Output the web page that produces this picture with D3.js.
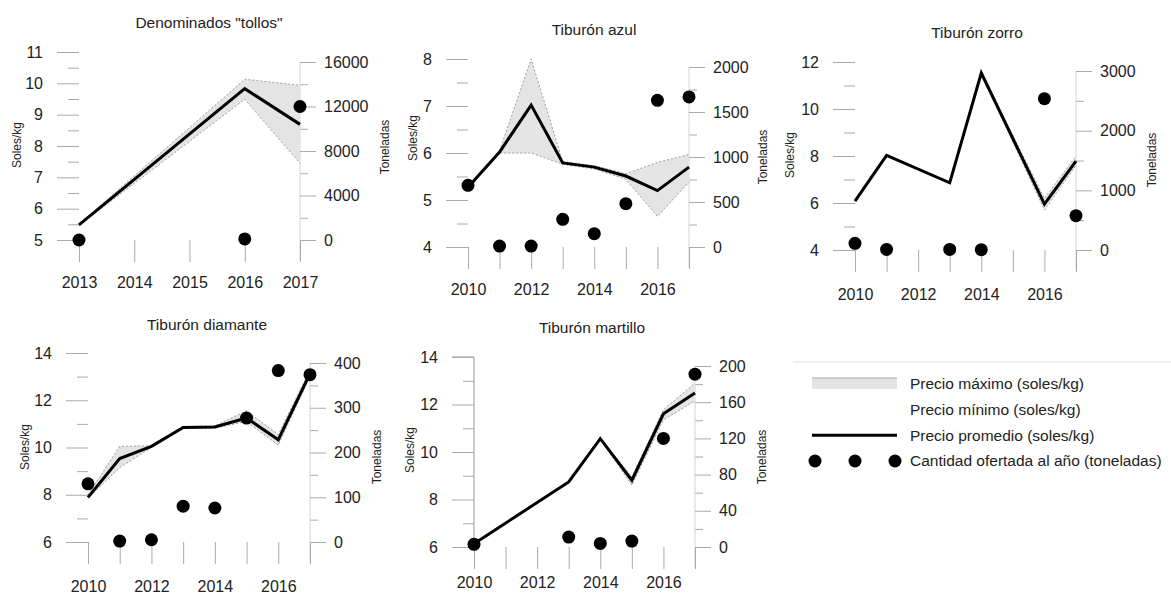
<!DOCTYPE html>
<html>
<head>
<meta charset="utf-8">
<script src="https://cdn.jsdelivr.net/npm/d3@7"></script>
<style>
  body { margin: 0; background: #fff; }
  svg { font-family: "Liberation Sans", Arial, sans-serif; }
</style>
</head>
<body>
<svg id="chart" width="1171" height="594"></svg>
<script>
// Denominados "tollos"
const tollosYears = [2013, 2016, 2017];
const tollosAvg = [5.48, 9.83, 8.69];
const tollosMax = [5.5, 10.13, 9.94];
const tollosMin = [5.46, 9.49, 7.45];
const tollosQty = [0, 100, 12000];

// Tiburón azul
const azulYears = [2010, 2011, 2012, 2013, 2014, 2015, 2016, 2017];
const azulAvg = [5.27, 6.02, 7.02, 5.79, 5.70, 5.51, 5.20, 5.70];
const azulMax = [5.28, 6.05, 8.0, 5.82, 5.73, 5.56, 5.8, 5.97];
const azulMin = [5.25, 6.0, 6.0, 5.76, 5.66, 5.44, 4.65, 5.38];
const azulQty = [685, 10, 10, 307, 148, 481, 1630, 1667];

// Tiburón zorro
const zorroYears = [2010, 2011, 2013, 2014, 2016, 2017];
const zorroAvg = [6.08, 8.03, 6.86, 11.53, 5.95, 7.78];
const zorroMax = [6.1, 8.05, 6.88, 11.55, 6.2, 8.0];
const zorroMin = [6.06, 8.0, 6.84, 11.5, 5.7, 7.6];
const zorroQty = [112, 10, 10, 5, 2536, 575];

// Tiburón diamante
const diamanteYears = [2010, 2011, 2012, 2013, 2014, 2015, 2016, 2017];
const diamanteAvg = [7.89, 9.53, 10.05, 10.85, 10.87, 11.25, 10.33, 13.13];
const diamanteMax = [8.0, 10.05, 10.07, 10.88, 10.92, 11.55, 10.55, 13.3];
const diamanteMin = [7.85, 9.15, 10.0, 10.8, 10.82, 11.1, 10.1, 13.0];
const diamanteQty = [130, 2, 5, 80, 76, 277, 383, 374];

// Tiburón martillo
const martilloYears = [2010, 2013, 2014, 2015, 2016, 2017];
const martilloAvg = [6.14, 8.74, 10.56, 8.81, 11.61, 12.48];
const martilloMax = [6.15, 8.76, 10.58, 8.95, 11.78, 12.9];
const martilloMin = [6.13, 8.72, 10.54, 8.6, 11.35, 12.15];
const martilloQty = [3, 11, 4, 6.5, 120, 191];

const legendLabels = [
  "Precio máximo (soles/kg)",
  "Precio mínimo (soles/kg)",
  "Precio promedio (soles/kg)",
  "Cantidad ofertada al año (toneladas)"
];

// layout of each small chart
const panels = [
  {title: 'Denominados "tollos"', years: tollosYears, avg: tollosAvg, max: tollosMax, min: tollosMin, qty: tollosQty,
   xDom: [2013, 2017], xRange: [79, 300], yDom: [5, 11], yRange: [240, 52], qDom: [0, 16000], qRange: [240, 62],
   yStep: 1, qStep: 4000, xTicks: [2013, 2014, 2015, 2016, 2017], labelY: 283,
   titlePos: [209, 28], leftTitle: [17, 145], rightTitle: [385, 147]},
  {title: "Tiburón azul", years: azulYears, avg: azulAvg, max: azulMax, min: azulMin, qty: azulQty,
   xDom: [2010, 2017], xRange: [468, 689], yDom: [4, 8], yRange: [247, 59], qDom: [0, 2000], qRange: [247, 67],
   yStep: 1, qStep: 500, xTicks: [2010, 2012, 2014, 2016], labelY: 290,
   titlePos: [594, 35], leftTitle: [413, 138], rightTitle: [763, 157]},
  {title: "Tiburón zorro", years: zorroYears, avg: zorroAvg, max: zorroMax, min: zorroMin, qty: zorroQty,
   xDom: [2010, 2017], xRange: [855, 1076], yDom: [4, 12], yRange: [250, 62], qDom: [0, 3000], qRange: [250, 71],
   yStep: 2, qStep: 1000, xTicks: [2010, 2012, 2014, 2016], labelY: 295,
   titlePos: [977, 38], leftTitle: [790, 155], rightTitle: [1152, 160]},
  {title: "Tiburón diamante", years: diamanteYears, avg: diamanteAvg, max: diamanteMax, min: diamanteMin, qty: diamanteQty,
   xDom: [2010, 2017], xRange: [88, 310], yDom: [6, 14], yRange: [542, 353], qDom: [0, 400], qRange: [542, 363],
   yStep: 2, qStep: 100, xTicks: [2010, 2012, 2014, 2016], labelY: 587,
   titlePos: [207, 330], leftTitle: [25, 447], rightTitle: [377, 457]},
  {title: "Tiburón martillo", years: martilloYears, avg: martilloAvg, max: martilloMax, min: martilloMin, qty: martilloQty,
   xDom: [2010, 2017], xRange: [474, 695], yDom: [6, 14], yRange: [547, 357], qDom: [0, 200], qRange: [547, 366],
   yStep: 2, qStep: 40, xTicks: [2010, 2012, 2014, 2016], labelY: 583, leftDomain: true,
   titlePos: [592, 333], leftTitle: [410, 450], rightTitle: [762, 457]}
];

const svg = d3.select("#chart");
const tickColor = "#aaa";
const fmt = d3.format("d");

function styleAxis(g) {
  g.selectAll(".tick line").attr("stroke", tickColor);
  g.selectAll(".tick text").attr("fill", "#222").style("font-size", "16px");
  g.style("font-family", null);
}

panels.forEach((p) => {
  const x = d3.scaleLinear().domain(p.xDom).range(p.xRange);
  const y = d3.scaleLinear().domain(p.yDom).range(p.yRange);
  const q = d3.scaleLinear().domain(p.qDom).range(p.qRange);
  const g = svg.append("g");

  // minor ticks (half steps) on left and right axes
  const yMinor = d3.range(p.yDom[0] + p.yStep / 2, p.yDom[1], p.yStep);
  g.append("g")
    .attr("transform", `translate(${p.xRange[0]},0)`)
    .call(d3.axisLeft(y).tickValues(yMinor).tickSize(11).tickFormat(""))
    .call((a) => a.select(".domain").remove())
    .call(styleAxis);
  const qMinor = d3.range(p.qStep / 2, p.qDom[1], p.qStep);
  g.append("g")
    .attr("transform", `translate(${p.xRange[1]},0)`)
    .call(d3.axisRight(q).tickValues(qMinor).tickSize(8).tickFormat(""))
    .call((a) => a.select(".domain").remove())
    .call(styleAxis);

  // left axis: Soles/kg
  const left = g.append("g")
    .attr("transform", `translate(${p.xRange[0]},0)`)
    .call(d3.axisLeft(y).tickValues(d3.range(p.yDom[0], p.yDom[1] + 0.001, p.yStep))
      .tickSize(22).tickPadding(14).tickFormat(fmt))
    .call(styleAxis);
  if (p.leftDomain) {
    left.select(".domain").attr("stroke", "#999").attr("d", `M-22,${p.yRange[1]}H0V${p.yRange[0]}`);
  } else {
    left.select(".domain").remove();
  }

  // right axis: Toneladas
  g.append("g")
    .attr("transform", `translate(${p.xRange[1]},0)`)
    .call(d3.axisRight(q).tickValues(d3.range(p.qDom[0], p.qDom[1] + 1, p.qStep))
      .tickSize(16).tickPadding(8).tickFormat(fmt))
    .call((a) => a.select(".domain").attr("stroke", "#d4d4d4").attr("d", `M0,${p.qRange[1]}V${p.qRange[0] + 20}`))
    .call(styleAxis);

  // bottom axis: years
  g.append("g")
    .attr("transform", `translate(0,${p.yRange[0]})`)
    .call(d3.axisBottom(x).tickValues(d3.range(p.xDom[0], p.xDom[1] + 1, 1)).tickSize(22).tickFormat(""))
    .call((a) => a.select(".domain").remove())
    .call(styleAxis);
  g.append("g")
    .attr("transform", `translate(0,${p.yRange[0]})`)
    .call(d3.axisBottom(x).tickValues(p.xTicks).tickSize(0).tickPadding(p.labelY - p.yRange[0] - 6).tickFormat(fmt))
    .call((a) => a.select(".domain").remove())
    .call(styleAxis);

  // axis titles
  g.append("text")
    .attr("transform", `translate(${p.leftTitle[0]},${p.leftTitle[1]}) rotate(-90)`)
    .attr("text-anchor", "middle").attr("dy", "0.35em")
    .style("font-size", "12px").attr("fill", "#222")
    .text("Soles/kg");
  g.append("text")
    .attr("transform", `translate(${p.rightTitle[0]},${p.rightTitle[1]}) rotate(-90)`)
    .attr("text-anchor", "middle").attr("dy", "0.35em")
    .style("font-size", "12px").attr("fill", "#222")
    .text("Toneladas");

  // title
  g.append("text")
    .attr("x", p.titlePos[0]).attr("y", p.titlePos[1])
    .attr("text-anchor", "middle")
    .style("font-size", "15.5px").attr("fill", "#222")
    .text(p.title);

  const rows = p.years.map((yr, i) => ({year: yr, avg: p.avg[i], max: p.max[i], min: p.min[i], qty: p.qty[i]}));

  // price range band
  g.append("path")
    .datum(rows)
    .attr("fill", "#e4e4e4")
    .attr("d", d3.area().x((d) => x(d.year)).y0((d) => y(d.min)).y1((d) => y(d.max)));
  ["max", "min"].forEach((k) => {
    g.append("path")
      .datum(rows)
      .attr("fill", "none")
      .attr("stroke", "#888")
      .attr("stroke-width", 0.8)
      .attr("stroke-dasharray", "2,2")
      .attr("d", d3.line().x((d) => x(d.year)).y((d) => y(d[k])));
  });

  // average price
  g.append("path")
    .datum(rows)
    .attr("fill", "none")
    .attr("stroke", "#000")
    .attr("stroke-width", 3)
    .attr("d", d3.line().x((d) => x(d.year)).y((d) => y(d.avg)));

  // quantity offered
  g.selectAll(".dot")
    .data(rows)
    .join("circle")
    .attr("cx", (d) => x(d.year))
    .attr("cy", (d) => q(d.qty))
    .attr("r", 6.5)
    .attr("fill", "#000");
});

// legend
const legend = svg.append("g").attr("transform", "translate(793,362)");
legend.append("line").attr("x1", 0).attr("x2", 378).attr("stroke", "#ddd");
const rowY = d3.scalePoint().domain(legendLabels).range([22, 99]);
legend.append("rect")
  .attr("x", 19).attr("y", rowY(legendLabels[0]) - 6).attr("width", 85).attr("height", 11)
  .attr("fill", "#e4e4e4");
legend.append("line")
  .attr("x1", 19).attr("x2", 104).attr("y1", rowY(legendLabels[0]) - 6).attr("y2", rowY(legendLabels[0]) - 6)
  .attr("stroke", "#aaa");
legend.append("line")
  .attr("x1", 19).attr("x2", 104).attr("y1", rowY(legendLabels[2])).attr("y2", rowY(legendLabels[2]))
  .attr("stroke", "#000").attr("stroke-width", 3);
legend.selectAll(".ldot")
  .data([22, 62, 102])
  .join("circle")
  .attr("cx", (d) => d).attr("cy", rowY(legendLabels[3]))
  .attr("r", 6.5).attr("fill", "#000");
legend.selectAll(".ltext")
  .data(legendLabels)
  .join("text")
  .attr("x", 117).attr("y", (d) => rowY(d)).attr("dy", "0.35em")
  .style("font-size", "15.5px").attr("fill", "#222")
  .text((d) => d);
</script>
</body>
</html>
